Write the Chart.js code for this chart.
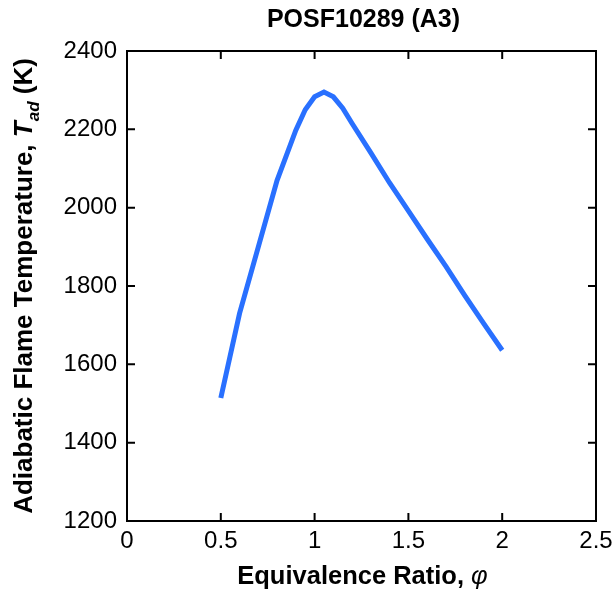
<!DOCTYPE html>
<html>
<head>
<meta charset="utf-8">
<script src="https://cdn.jsdelivr.net/npm/chart.js@4"></script>
<style>
  body { margin: 0; background: #fff; }
  canvas { display: block; }
</style>
</head>
<body>
<canvas id="chart" width="616" height="595"></canvas>
<script>
// Equivalence ratio (phi) and adiabatic flame temperature (K)
const phi = [0.5, 0.6, 0.7, 0.8, 0.9, 0.95, 1.0, 1.05, 1.1, 1.15, 1.2, 1.3, 1.4, 1.5, 1.6, 1.7, 1.8, 1.9, 2.0];
const tad = [1514, 1730, 1900, 2070, 2198, 2250, 2283, 2295, 2283, 2254, 2215, 2140, 2063, 1992, 1920, 1850, 1776, 1705, 1636];

const xTicks = [0, 0.5, 1, 1.5, 2, 2.5];
const yTicks = [1200, 1400, 1600, 1800, 2000, 2200, 2400];

const chartTitle = 'POSF10289 (A3)';
const lineColor = '#2970ff';
const fontFamily = '"Liberation Sans", Arial, sans-serif';

// draws frame, inward ticks on all sides, and the titles with mixed styles
const framePlugin = {
    id: 'frame',
    afterDraw(chart) {
        const ctx = chart.ctx;
        const a = chart.chartArea;
        const xs = chart.scales.x;
        const ys = chart.scales.y;
        const tick = 8;

        ctx.save();
        ctx.strokeStyle = '#000';
        ctx.lineWidth = 2;
        ctx.strokeRect(a.left, a.top, a.right - a.left, a.bottom - a.top);

        ctx.beginPath();
        xTicks.forEach(v => {
            const px = xs.getPixelForValue(v);
            ctx.moveTo(px, a.bottom); ctx.lineTo(px, a.bottom - tick);
            ctx.moveTo(px, a.top); ctx.lineTo(px, a.top + tick);
        });
        yTicks.forEach(v => {
            const py = ys.getPixelForValue(v);
            ctx.moveTo(a.left, py); ctx.lineTo(a.left + tick, py);
            ctx.moveTo(a.right, py); ctx.lineTo(a.right - tick, py);
        });
        ctx.stroke();

        ctx.fillStyle = '#000';
        const cx = (a.left + a.right) / 2;

        // main title
        ctx.font = 'bold 25px ' + fontFamily;
        ctx.textAlign = 'center';
        ctx.textBaseline = 'alphabetic';
        ctx.fillText(chartTitle, cx + 2, 27);

        // x axis title
        drawParts(ctx, [
            { text: 'Equivalence Ratio, ', font: 'bold 25.5px ' + fontFamily, dy: 0 },
            { text: 'φ', font: 'italic 25.5px ' + fontFamily, dy: 0 }
        ], cx + 1, 584);

        // y axis title (rotated)
        ctx.translate(32, (a.top + a.bottom) / 2);
        ctx.rotate(-Math.PI / 2);
        drawParts(ctx, [
            { text: 'Adiabatic Flame Temperature, ', font: 'bold 26px ' + fontFamily, dy: 0 },
            { text: 'T', font: 'bold italic 26px ' + fontFamily, dy: 0 },
            { text: 'ad', font: 'bold italic 17px ' + fontFamily, dy: 7 },
            { text: ' (K)', font: 'bold 26px ' + fontFamily, dy: 0 }
        ], 0, 0);
        ctx.restore();
    }
};

function drawParts(ctx, parts, cx, baseY) {
    let total = 0;
    parts.forEach(p => { ctx.font = p.font; p.w = ctx.measureText(p.text).width; total += p.w; });
    let x = cx - total / 2;
    ctx.textAlign = 'left';
    ctx.textBaseline = 'alphabetic';
    parts.forEach(p => {
        ctx.font = p.font;
        ctx.fillText(p.text, x, baseY + p.dy);
        x += p.w;
    });
}

const points = phi.map((p, i) => ({ x: p, y: tad[i] }));

new Chart(document.getElementById('chart').getContext('2d'), {
    type: 'line',
    data: {
        datasets: [{
            data: points,
            borderColor: lineColor,
            borderWidth: 5,
            pointRadius: 0,
            tension: 0,
            fill: false
        }]
    },
    options: {
        responsive: false,
        animation: false,
        layout: { padding: { left: 0, top: 51, right: 20, bottom: 0 } },
        plugins: {
            legend: { display: false },
            title: { display: false },
            tooltip: { enabled: false }
        },
        scales: {
            x: {
                type: 'linear',
                min: 0,
                max: 2.5,
                afterFit(scale) {
                    scale.height = 74;
                    scale.paddingLeft = 0;
                    scale.paddingRight = 0;
                },
                afterBuildTicks(scale) { scale.ticks = xTicks.map(v => ({ value: v })); },
                grid: { display: false, drawTicks: false },
                border: { display: false },
                ticks: {
                    color: '#000',
                    padding: 6,
                    maxRotation: 0,
                    font: { family: fontFamily, size: 24 },
                    callback: v => String(v)
                }
            },
            y: {
                min: 1200,
                max: 2400,
                afterFit(scale) {
                    scale.width = 127;
                    scale.paddingTop = 0;
                    scale.paddingBottom = 0;
                },
                afterBuildTicks(scale) { scale.ticks = yTicks.map(v => ({ value: v })); },
                grid: { display: false, drawTicks: false },
                border: { display: false },
                ticks: {
                    color: '#000',
                    padding: 10,
                    font: { family: fontFamily, size: 24 },
                    callback: v => String(v)
                }
            }
        }
    },
    plugins: [framePlugin]
});
</script>
</body>
</html>
